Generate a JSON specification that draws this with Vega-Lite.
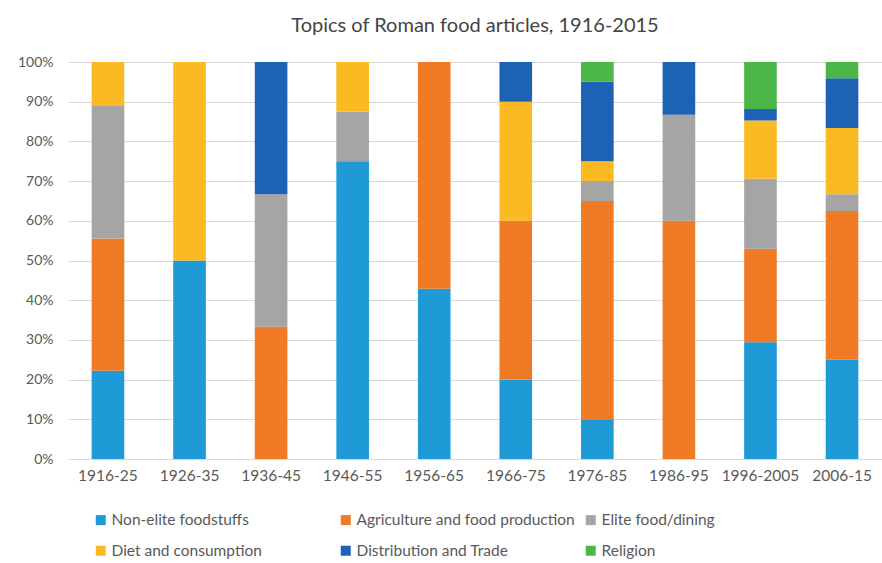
{
  "$schema": "https://vega.github.io/schema/vega-lite/v6.json",
  "autosize": {"type": "none"},
  "width": 814,
  "height": 397,
  "padding": {"left": 68, "top": 62, "right": 0, "bottom": 104},
  "background": "white",
  "title": {
    "text": "Topics of Roman food articles, 1916-2015",
    "font": "Lato",
    "fontSize": 20,
    "fontWeight": "normal",
    "color": "#444444",
    "anchor": "middle",
    "offset": 19
  },
  "data": {
    "values": [
      {"decade": "1916-25", "topic": "Non-elite foodstuffs", "pct": 22.2},
      {"decade": "1916-25", "topic": "Agriculture and food production", "pct": 33.3},
      {"decade": "1916-25", "topic": "Elite food/dining", "pct": 33.3},
      {"decade": "1916-25", "topic": "Diet and consumption", "pct": 11.1},
      {"decade": "1926-35", "topic": "Non-elite foodstuffs", "pct": 50},
      {"decade": "1926-35", "topic": "Diet and consumption", "pct": 50},
      {"decade": "1936-45", "topic": "Agriculture and food production", "pct": 33.3},
      {"decade": "1936-45", "topic": "Elite food/dining", "pct": 33.3},
      {"decade": "1936-45", "topic": "Distribution and Trade", "pct": 33.3},
      {"decade": "1946-55", "topic": "Non-elite foodstuffs", "pct": 75},
      {"decade": "1946-55", "topic": "Elite food/dining", "pct": 12.5},
      {"decade": "1946-55", "topic": "Diet and consumption", "pct": 12.5},
      {"decade": "1956-65", "topic": "Non-elite foodstuffs", "pct": 42.9},
      {"decade": "1956-65", "topic": "Agriculture and food production", "pct": 57.1},
      {"decade": "1966-75", "topic": "Non-elite foodstuffs", "pct": 20},
      {"decade": "1966-75", "topic": "Agriculture and food production", "pct": 40},
      {"decade": "1966-75", "topic": "Diet and consumption", "pct": 30},
      {"decade": "1966-75", "topic": "Distribution and Trade", "pct": 10},
      {"decade": "1976-85", "topic": "Non-elite foodstuffs", "pct": 10},
      {"decade": "1976-85", "topic": "Agriculture and food production", "pct": 55},
      {"decade": "1976-85", "topic": "Elite food/dining", "pct": 5},
      {"decade": "1976-85", "topic": "Diet and consumption", "pct": 5},
      {"decade": "1976-85", "topic": "Distribution and Trade", "pct": 20},
      {"decade": "1976-85", "topic": "Religion", "pct": 5},
      {"decade": "1986-95", "topic": "Agriculture and food production", "pct": 60},
      {"decade": "1986-95", "topic": "Elite food/dining", "pct": 26.7},
      {"decade": "1986-95", "topic": "Distribution and Trade", "pct": 13.3},
      {"decade": "1996-2005", "topic": "Non-elite foodstuffs", "pct": 29.4},
      {"decade": "1996-2005", "topic": "Agriculture and food production", "pct": 23.5},
      {"decade": "1996-2005", "topic": "Elite food/dining", "pct": 17.6},
      {"decade": "1996-2005", "topic": "Diet and consumption", "pct": 14.7},
      {"decade": "1996-2005", "topic": "Distribution and Trade", "pct": 2.9},
      {"decade": "1996-2005", "topic": "Religion", "pct": 11.8},
      {"decade": "2006-15", "topic": "Non-elite foodstuffs", "pct": 25},
      {"decade": "2006-15", "topic": "Agriculture and food production", "pct": 37.5},
      {"decade": "2006-15", "topic": "Elite food/dining", "pct": 4.2},
      {"decade": "2006-15", "topic": "Diet and consumption", "pct": 16.7},
      {"decade": "2006-15", "topic": "Distribution and Trade", "pct": 12.5},
      {"decade": "2006-15", "topic": "Religion", "pct": 4.1}
    ]
  },
  "transform": [
    {"calculate": "indexof(['Non-elite foodstuffs', 'Agriculture and food production', 'Elite food/dining', 'Diet and consumption', 'Distribution and Trade', 'Religion'], datum.topic)", "as": "stackOrder"}
  ],
  "mark": {"type": "bar"},
  "encoding": {
    "x": {
      "field": "decade",
      "type": "nominal",
      "sort": null,
      "title": null,
      "scale": {"paddingInner": 0.6, "paddingOuter": 0.29},
      "axis": {
        "labelAngle": 0,
        "labelFont": "Lato",
        "labelFontSize": 15.5,
        "labelColor": "#595959",
        "labelPadding": 9,
        "ticks": false,
        "domainColor": "#d9d9d9",
        "domainWidth": 1
      }
    },
    "y": {
      "field": "pct",
      "type": "quantitative",
      "stack": "normalize",
      "title": null,
      "scale": {"domain": [0, 1]},
      "axis": {
        "format": ".0%",
        "values": [0, 0.1, 0.2, 0.3, 0.4, 0.5, 0.6, 0.7, 0.8, 0.9, 1],
        "labelFont": "Lato",
        "labelFontSize": 14,
        "labelColor": "#595959",
        "labelPadding": 15,
        "ticks": false,
        "domain": false,
        "gridColor": "#d9d9d9",
        "gridWidth": 1
      }
    },
    "color": {
      "field": "topic",
      "type": "nominal",
      "scale": {
        "domain": ["Non-elite foodstuffs", "Agriculture and food production", "Elite food/dining", "Diet and consumption", "Distribution and Trade", "Religion"],
        "range": ["#1e9ad6", "#f07b26", "#a5a5a5", "#fbba21", "#1e62b5", "#4bb749"]
      },
      "legend": {
        "title": null,
        "orient": "none",
        "legendX": 25,
        "legendY": 450,
        "direction": "horizontal",
        "columns": 3,
        "gridAlign": "all",
        "columnPadding": 8,
        "rowPadding": 14,
        "symbolType": "square",
        "symbolSize": 100,
        "symbolStrokeWidth": 0,
        "labelFont": "Lato",
        "labelFontSize": 15.5,
        "labelColor": "#595959",
        "labelOffset": 3,
        "labelLimit": 300
      }
    },
    "order": {"field": "stackOrder", "type": "quantitative", "sort": "ascending"}
  },
  "config": {"view": {"stroke": null}}
}
